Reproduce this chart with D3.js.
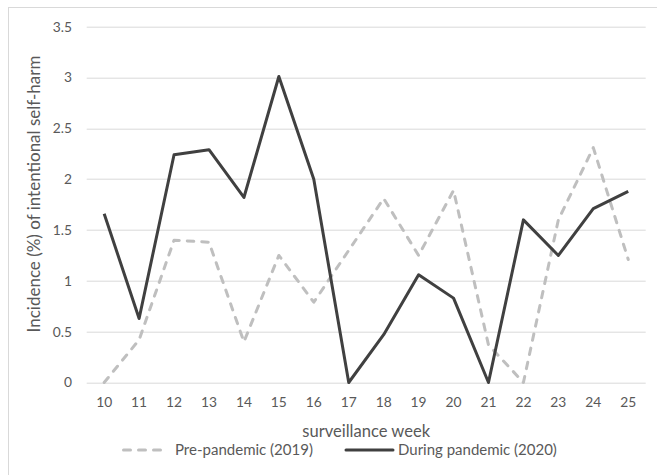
<!DOCTYPE html>
<html>
<head>
<meta charset="utf-8">
<script src="https://cdn.jsdelivr.net/npm/d3@7"></script>
<style>
  html, body { margin: 0; padding: 0; background: #fff; }
  svg { display: block; }
  text { font-family: Lato, "Liberation Sans", sans-serif; fill: #595959; }
</style>
</head>
<body>
<svg id="chart"></svg>
<script>
// surveillance weeks
const weeks = ["10", "11", "12", "13", "14", "15", "16", "17", "18", "19", "20", "21", "22", "23", "24", "25"];
// incidence (%) of intentional self-harm
const prePandemic = [0, 0.42, 1.40, 1.38, 0.40, 1.25, 0.79, 1.30, 1.81, 1.25, 1.89, 0.37, 0, 1.60, 2.31, 1.21];
const duringPandemic = [1.66, 0.63, 2.24, 2.29, 1.82, 3.01, 2.0, 0, 0.47, 1.06, 0.83, 0, 1.60, 1.25, 1.71, 1.88];
const yTicks = [0, 0.5, 1, 1.5, 2, 2.5, 3, 3.5];
const seriesNames = ["Pre-pandemic (2019)", "During pandemic (2020)"];

const W = 657, H = 475;
const margin = { top: 26.7, right: 11.3, bottom: 92.5, left: 86.7 };
const width = W - margin.left - margin.right;
const height = H - margin.top - margin.bottom;

const svg = d3.select("#chart").attr("width", W).attr("height", H);

// size a text so its rendered width matches the original layout
function fitWidth(sel, target) {
  sel.style("font-size", "100px");
  const w = sel.node().getComputedTextLength();
  const size = 100 * target / w;
  sel.style("font-size", size + "px");
  return size;
}

// chart frame
svg.append("rect")
  .attr("x", 8.5).attr("y", 7.5)
  .attr("width", 660).attr("height", 480)
  .attr("fill", "#fff")
  .attr("stroke", "#d9d9d9")
  .attr("stroke-width", 1);

const g = svg.append("g").attr("transform", `translate(${margin.left},${margin.top})`);

const x = d3.scaleBand().domain(weeks).range([0, width]).padding(0);
const y = d3.scaleLinear().domain([0, 3.5]).range([height, 0]);

// gridlines
g.append("g")
  .selectAll("line")
  .data(yTicks)
  .enter().append("line")
  .attr("x1", 0).attr("x2", width)
  .attr("y1", d => Math.round(y(d)) + 0.5)
  .attr("y2", d => Math.round(y(d)) + 0.5)
  .attr("stroke", "#d9d9d9")
  .attr("stroke-width", 1);

// x axis labels
const xAxis = g.append("g")
  .attr("class", "x-axis")
  .attr("transform", `translate(0,${height})`)
  .call(d3.axisBottom(x).tickSize(0).tickPadding(15));
xAxis.select(".domain").remove();
const tickSize = fitWidth(xAxis.select(".tick text"), 16);
xAxis.selectAll("text")
  .style("font-size", tickSize + "px")
  .style("fill", "#595959")
  .style("font-family", "Lato, 'Liberation Sans', sans-serif");

// y axis labels
const yAxis = g.append("g")
  .attr("class", "y-axis")
  .call(d3.axisLeft(y).tickValues(yTicks).tickSize(0).tickPadding(14.7).tickFormat(d3.format("")));
yAxis.select(".domain").remove();
yAxis.selectAll("text")
  .style("font-size", tickSize + "px")
  .style("fill", "#595959")
  .style("font-family", "Lato, 'Liberation Sans', sans-serif");

const line = d3.line()
  .x((d, i) => x(weeks[i]) + x.bandwidth() / 2)
  .y(d => y(d));

g.append("path")
  .datum(prePandemic)
  .attr("d", line)
  .attr("fill", "none")
  .attr("stroke", "#bfbfbf")
  .attr("stroke-width", 3)
  .attr("stroke-linecap", "round")
  .attr("stroke-linejoin", "round")
  .attr("stroke-dasharray", "6.5,8");

g.append("path")
  .datum(duringPandemic)
  .attr("d", line)
  .attr("fill", "none")
  .attr("stroke", "#404040")
  .attr("stroke-width", 3)
  .attr("stroke-linejoin", "round");

// axis titles
const yTitle = svg.append("text")
  .attr("transform", "translate(39.5,194) rotate(-90)")
  .attr("text-anchor", "middle")
  .text("Incidence (%) of intentional self-harm");
fitWidth(yTitle, 277);

const xTitle = svg.append("text")
  .attr("x", margin.left + width / 2)
  .attr("y", 437)
  .attr("text-anchor", "middle")
  .text("surveillance week");
fitWidth(xTitle, 128);

// legend
const legend = svg.append("g").attr("transform", "translate(0,450)");
legend.append("line")
  .attr("x1", 123.5).attr("x2", 164)
  .attr("y1", 0).attr("y2", 0)
  .attr("stroke", "#bfbfbf")
  .attr("stroke-width", 3)
  .attr("stroke-linecap", "round")
  .attr("stroke-dasharray", "7,8");
const leg1 = legend.append("text")
  .attr("x", 175).attr("y", 5)
  .text(seriesNames[0]);
fitWidth(leg1, 138);

legend.append("line")
  .attr("x1", 346).attr("x2", 393)
  .attr("y1", 0).attr("y2", 0)
  .attr("stroke", "#404040")
  .attr("stroke-width", 3)
  .attr("stroke-linecap", "round");
const leg2 = legend.append("text")
  .attr("x", 398).attr("y", 5)
  .text(seriesNames[1]);
fitWidth(leg2, 159);
</script>
</body>
</html>
